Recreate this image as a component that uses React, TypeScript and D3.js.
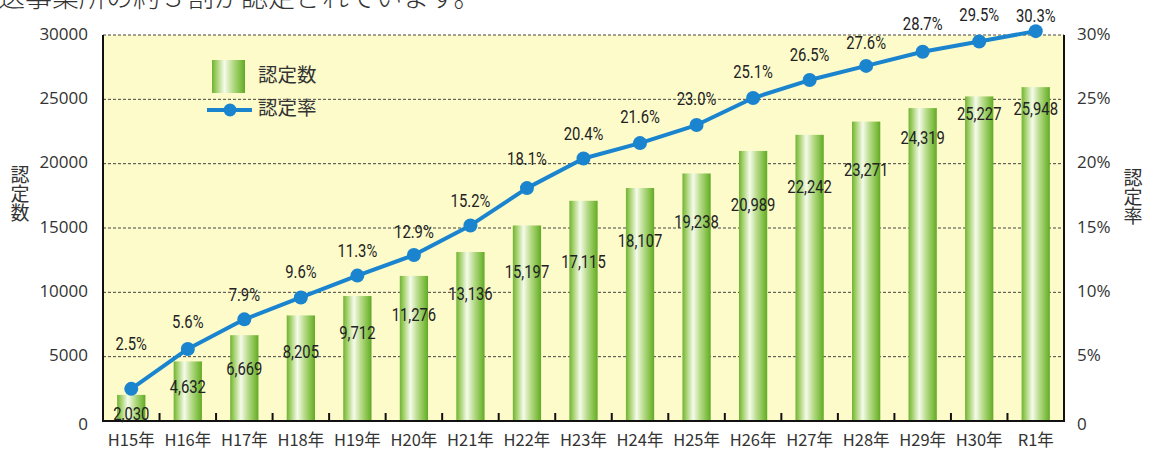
import React from "react";
import * as d3 from "d3";

const categories = ["H15年","H16年","H17年","H18年","H19年","H20年","H21年","H22年","H23年","H24年","H25年","H26年","H27年","H28年","H29年","H30年","R1年"];
const counts = [2030,4632,6669,8205,9712,11276,13136,15197,17115,18107,19238,20989,22242,23271,24319,25227,25948];
const rates = [2.5,5.6,7.9,9.6,11.3,12.9,15.2,18.1,20.4,21.6,23.0,25.1,26.5,27.6,28.7,29.5,30.3];
const leftTicks = [0,5000,10000,15000,20000,25000,30000];
const rightTicks = [0,5,10,15,20,25,30];
// label vertical offsets (px) relative to mark
const countLabelOffset = [20,27,35,38,38,40,43,48,62,54,50,55,53,50,31,19,23];
const rateLabelOffset = [44,26,23,24,23,22,23,28,23,25,25,25,24,22,27,25,14];

const W = 1152, H = 455;
const M = { left: 103, right: 1064, top: 35, bottom: 421 };

export default function App() {
  const x = d3.scaleBand<string>().domain(categories).range([M.left, M.right]).paddingInner(0.5).paddingOuter(0.25);
  const step = x.step();
  const y = d3.scaleLinear().domain([0, 30000]).range([M.bottom, M.top]);
  const yr = d3.scaleLinear().domain([0, 30]).range([M.bottom, M.top]);
  const cx = (c: string) => (x(c) as number) + x.bandwidth() / 2;
  const line = d3.line<number>().x((_, i) => cx(categories[i])).y((d) => yr(d));
  const labelFont = "Roboto, 'Liberation Sans', sans-serif";
  const tickFont = "'Open Sans', 'Noto Sans', sans-serif";
  const cjk = "'Noto Sans CJK JP', sans-serif";
  const narrow = (px: number, py: number, key: string, s: string) => (
    <text key={key} transform={`translate(${px},${py}) scale(0.8,1)`} textAnchor="middle" dominantBaseline="middle" fontFamily={labelFont} fontWeight={400} fontSize={18.5} fill="#222">{s}</text>
  );
  return (
    <svg width={W} height={H} style={{ position: "absolute", left: 0, top: 0, background: "#fff" }}>
      <defs>
        <linearGradient id="barg" x1="0" x2="1" y1="0" y2="0">
          <stop offset="0" stopColor="#6fb233" />
          <stop offset="0.12" stopColor="#9ccd62" />
          <stop offset="0.38" stopColor="#f6fbea" />
          <stop offset="0.62" stopColor="#b9dc8c" />
          <stop offset="0.88" stopColor="#7dbd40" />
          <stop offset="1" stopColor="#62a82a" />
        </linearGradient>
      </defs>
      <text x={-2} y={7} fontFamily={cjk} fontSize={27} fill="#333" fontWeight={300}>送事業所の約３割が認定されています。</text>
      <rect x={M.left} y={M.top} width={M.right - M.left} height={M.bottom - M.top} fill="#fdfbca" />
      {leftTicks.map((t) => (
        <line key={"g" + t} x1={M.left} x2={M.right} y1={y(t)} y2={y(t)} stroke="#444" strokeWidth={1} strokeDasharray="3,2" />
      ))}
      {counts.map((v, i) => (
        <rect key={"b" + i} x={x(categories[i])} y={y(v)} width={x.bandwidth()} height={y(0) - y(v)} fill="url(#barg)" />
      ))}
      {categories.slice(1).map((c, i) => (
        <line key={"t" + i} x1={(x(c) as number) - step * 0.25} x2={(x(c) as number) - step * 0.25} y1={M.bottom} y2={M.bottom - 8} stroke="#111" strokeWidth={2} />
      ))}
      <line x1={M.left} x2={M.left} y1={M.top} y2={M.bottom + 1} stroke="#111" strokeWidth={2} />
      <line x1={M.right} x2={M.right} y1={M.top} y2={M.bottom + 1} stroke="#111" strokeWidth={2} />
      <line x1={M.left - 1} x2={M.right + 1} y1={M.bottom} y2={M.bottom} stroke="#111" strokeWidth={2} />
      <path d={line(rates) || ""} fill="none" stroke="#1a84cf" strokeWidth={4} strokeLinejoin="round" />
      {rates.map((r, i) => (
        <circle key={"c" + i} cx={cx(categories[i])} cy={yr(r)} r={7} fill="#1a84cf" />
      ))}
      {rates.map((r, i) => narrow(cx(categories[i]), yr(r) - rateLabelOffset[i], "rl" + i, r.toFixed(1) + "%"))}
      {counts.map((v, i) => narrow(cx(categories[i]), y(v) + countLabelOffset[i], "cl" + i, d3.format(",")(v)))}
      {leftTicks.map((t) => (
        <text key={"lt" + t} x={88} y={y(t) + (t === 0 ? 4 : 0)} textAnchor="end" dominantBaseline="middle" fontFamily={tickFont} fontSize={17} fill="#333">{t}</text>
      ))}
      {rightTicks.map((t) => (
        <text key={"rt" + t} x={1077} y={yr(t) + (t === 0 ? 4 : 0)} textAnchor="start" dominantBaseline="middle" fontFamily={tickFont} fontSize={17} fill="#333">{t === 0 ? "0" : t + "%"}</text>
      ))}
      {categories.map((c) => (
        <text key={"x" + c} x={cx(c)} y={442} textAnchor="middle" dominantBaseline="middle" fontFamily={cjk} fontSize={16.5} fill="#333">{c}</text>
      ))}
      <text x={20} y={165} fontFamily={cjk} fontSize={19} fill="#333" style={{ writingMode: "vertical-rl" as any }}>認定数</text>
      <text x={1133} y={168} fontFamily={cjk} fontSize={19} fill="#333" style={{ writingMode: "vertical-rl" as any }}>認定率</text>
      <rect x={212} y={60} width={33} height={33} fill="url(#barg)" />
      <text x={258} y={77} dominantBaseline="middle" fontFamily={cjk} fontSize={19.5} fill="#333">認定数</text>
      <line x1={207} x2={252} y1={110} y2={110} stroke="#1a84cf" strokeWidth={4} />
      <circle cx={230} cy={110} r={6.5} fill="#1a84cf" />
      <text x={258} y={110} dominantBaseline="middle" fontFamily={cjk} fontSize={19.5} fill="#333">認定率</text>
    </svg>
  );
}
